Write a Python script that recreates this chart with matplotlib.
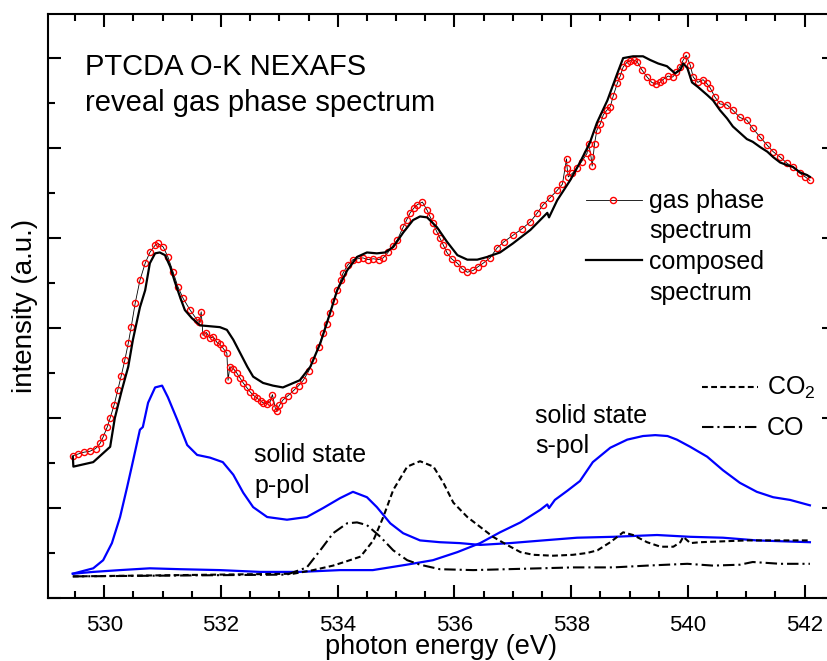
import numpy as np
import matplotlib
matplotlib.use("Agg")
import matplotlib.pyplot as plt
from matplotlib.ticker import MultipleLocator

plt.rcParams['font.family'] = ['Liberation Sans', 'DejaVu Sans']
plt.rcParams['mathtext.fontset'] = 'custom'
plt.rcParams['mathtext.rm'] = 'Liberation Sans'

# gas phase spectrum (red circles)
gas_e = [529.46, 529.55, 529.65, 529.75, 529.85, 529.93, 529.98, 530.05, 530.10, 530.17,
         530.23, 530.29, 530.35, 530.41, 530.46, 530.53, 530.61, 530.70, 530.78, 530.87,
         530.92, 531.01, 531.09, 531.18, 531.26, 531.35, 531.47, 531.59, 531.63, 531.66,
         531.69, 531.75, 531.81, 531.87, 531.93, 531.98, 532.03, 532.10, 532.12, 532.15,
         532.21, 532.27, 532.33, 532.38, 532.44, 532.50, 532.56, 532.62, 532.68, 532.72,
         532.78, 532.84, 532.88, 532.93, 532.96, 533.00, 533.06, 533.15, 533.25, 533.33,
         533.41, 533.50, 533.58, 533.67, 533.75, 533.81, 533.87, 533.93, 533.99, 534.05,
         534.09, 534.17, 534.26, 534.35, 534.43, 534.52, 534.61, 534.70, 534.78, 534.86,
         534.94, 535.02, 535.12, 535.18, 535.24, 535.30, 535.36, 535.45, 535.53, 535.58,
         535.63, 535.69, 535.75, 535.81, 535.87, 535.95, 536.05, 536.13, 536.22, 536.32,
         536.40, 536.49, 536.61, 536.73, 536.85, 537.00, 537.15, 537.30, 537.42, 537.52,
         537.64, 537.76, 537.85, 537.92, 537.93, 537.95, 538.02, 538.10, 538.18, 538.27,
         538.30, 538.34, 538.36, 538.40, 538.44, 538.50, 538.55, 538.61, 538.67, 538.72,
         538.79, 538.84, 538.89, 538.95, 539.01, 539.07, 539.13, 539.21, 539.30, 539.38,
         539.45, 539.52, 539.57, 539.66, 539.74, 539.80, 539.86, 539.92, 539.97, 540.04,
         540.09, 540.17, 540.26, 540.32, 540.38, 540.46, 540.55, 540.67, 540.77, 540.89,
         541.01, 541.11, 541.24, 541.36, 541.46, 541.58, 541.70, 541.80, 541.92, 542.01,
         542.09]
gas_i = [1.58, 1.60, 1.62, 1.63, 1.66, 1.72, 1.79, 1.90, 2.00, 2.15,
         2.31, 2.47, 2.64, 2.83, 3.01, 3.28, 3.53, 3.72, 3.84, 3.92,
         3.94, 3.90, 3.79, 3.62, 3.46, 3.33, 3.20, 3.09, 3.07, 3.18,
         2.92, 2.95, 2.89, 2.90, 2.84, 2.82, 2.78, 2.72, 2.42, 2.57,
         2.55, 2.50, 2.44, 2.39, 2.34, 2.29, 2.25, 2.22, 2.19, 2.17,
         2.16, 2.18, 2.26, 2.11, 2.08, 2.14, 2.20, 2.25, 2.31, 2.36,
         2.42, 2.52, 2.64, 2.79, 2.94, 3.05, 3.17, 3.30, 3.42, 3.53,
         3.61, 3.70, 3.76, 3.77, 3.78, 3.76, 3.77, 3.76, 3.78, 3.84,
         3.91, 3.98, 4.12, 4.20, 4.28, 4.33, 4.37, 4.40, 4.31, 4.24,
         4.17, 4.08, 4.00, 3.92, 3.84, 3.77, 3.72, 3.66, 3.62, 3.64,
         3.68, 3.72, 3.78, 3.89, 3.96, 4.03, 4.10, 4.18, 4.28, 4.37,
         4.45, 4.53, 4.60, 4.88, 4.78, 4.68, 4.72, 4.78, 4.85, 4.94,
         5.05, 4.90, 4.80, 5.05, 5.20, 5.27, 5.37, 5.42, 5.46, 5.58,
         5.72, 5.80, 5.90, 5.95, 5.97, 5.98, 5.96, 5.87, 5.79, 5.73,
         5.71, 5.73, 5.76, 5.80, 5.79, 5.84, 5.90, 5.98, 6.03, 5.92,
         5.79, 5.73, 5.76, 5.72, 5.67, 5.57, 5.49, 5.48, 5.42, 5.34,
         5.31, 5.22, 5.12, 5.03, 4.96, 4.90, 4.83, 4.79, 4.72, 4.68,
         4.64]

# composed spectrum (black line)
comp_e = [529.46, 529.47, 529.81, 530.10, 530.18, 530.30, 530.41, 530.49, 530.61, 530.70,
          530.78, 530.87, 530.95, 531.04, 531.13, 531.21, 531.30, 531.38, 531.50, 531.64,
          531.81, 531.98, 532.10, 532.21, 532.33, 532.45, 532.55, 532.72, 532.89, 533.06,
          533.35, 533.53, 533.70, 533.87, 533.99, 534.16, 534.33, 534.50, 534.67, 534.81,
          534.95, 535.12, 535.29, 535.41, 535.53, 535.70, 535.87, 536.05, 536.22, 536.39,
          536.56, 536.78, 537.00, 537.30, 537.59, 537.62, 537.76, 537.98, 538.15, 538.32,
          538.44, 538.62, 538.79, 538.89, 539.06, 539.23, 539.35, 539.49, 539.64, 539.78,
          539.87, 539.92, 539.99, 540.07, 540.17, 540.33, 540.43, 540.55, 540.67, 540.77,
          540.89, 541.01, 541.11, 541.24, 541.36, 541.46, 541.58, 541.70, 541.80, 541.92,
          542.04, 542.09]
comp_i = [1.57, 1.46, 1.51, 1.68, 2.00, 2.31, 2.57, 2.87, 3.23, 3.42,
          3.72, 3.83, 3.84, 3.81, 3.68, 3.51, 3.34, 3.20, 3.11, 3.03,
          3.02, 3.01, 2.98, 2.87, 2.72, 2.57, 2.46, 2.39, 2.36, 2.34,
          2.42, 2.57, 2.83, 3.17, 3.42, 3.64, 3.79, 3.84, 3.83, 3.84,
          3.90, 4.06, 4.20, 4.24, 4.23, 4.12, 3.96, 3.81, 3.76, 3.76,
          3.79, 3.84, 3.94, 4.09, 4.28, 4.23, 4.42, 4.64, 4.84, 5.06,
          5.28, 5.53, 5.83, 6.00, 6.02, 6.02, 5.98, 5.94, 5.91, 5.83,
          5.87, 5.94, 5.89, 5.73, 5.68, 5.59, 5.53, 5.42, 5.33, 5.24,
          5.17, 5.10, 5.07, 5.01, 4.96, 4.90, 4.84, 4.81, 4.79, 4.73,
          4.70, 4.68]

# solid state p-pol (blue)
ppol_e = [529.46, 529.81, 529.98, 530.13, 530.27, 530.39, 530.47, 530.61, 530.66, 530.75,
          530.87, 530.99, 531.09, 531.25, 531.42, 531.59, 531.81, 532.03, 532.21, 532.38,
          532.55, 532.79, 533.13, 533.47, 533.75, 534.04, 534.26, 534.50, 534.67, 534.90,
          535.12, 535.41, 535.75, 536.09, 536.44, 536.95, 537.52, 538.10, 538.72, 539.47,
          540.04, 540.60, 541.18, 542.09]
ppol_i = [0.27, 0.33, 0.42, 0.61, 0.90, 1.23, 1.46, 1.87, 1.90, 2.17,
          2.34, 2.36, 2.23, 1.98, 1.70, 1.59, 1.56, 1.51, 1.37, 1.17,
          1.01, 0.90, 0.87, 0.90, 1.00, 1.11, 1.18, 1.12, 1.01, 0.83,
          0.72, 0.64, 0.62, 0.61, 0.59, 0.61, 0.64, 0.67, 0.68, 0.70,
          0.68, 0.67, 0.64, 0.62]

# solid state s-pol (blue)
spol_e = [529.46, 529.81, 530.27, 530.78, 531.30, 531.98, 532.67, 533.35, 534.04, 534.60,
          535.18, 535.63, 536.05, 536.44, 536.78, 537.13, 537.47, 537.59, 537.62, 537.72,
          537.93, 538.15, 538.37, 538.67, 538.96, 539.23, 539.44, 539.65, 539.81, 540.04,
          540.33, 540.60, 540.89, 541.18, 541.46, 541.75, 542.09]
spol_i = [0.27, 0.29, 0.31, 0.33, 0.32, 0.31, 0.29, 0.29, 0.31, 0.31,
          0.37, 0.42, 0.51, 0.61, 0.73, 0.84, 0.98, 1.04, 1.00, 1.09,
          1.19, 1.30, 1.51, 1.67, 1.76, 1.80, 1.81, 1.80, 1.76, 1.68,
          1.57, 1.42, 1.28, 1.18, 1.12, 1.09, 1.03]

# CO2 (dashed)
co2_e = [529.46, 533.24, 533.58, 533.92, 534.16, 534.39, 534.61, 534.78, 534.95, 535.19,
         535.41, 535.64, 535.81, 535.98, 536.22, 536.44, 536.66, 536.90, 537.13, 537.35,
         537.69, 538.03, 538.27, 538.45, 538.67, 538.89, 539.06, 539.30, 539.53, 539.75,
         539.87, 539.92, 540.04, 540.21, 541.01, 542.09]
co2_i = [0.24, 0.27, 0.31, 0.36, 0.41, 0.46, 0.64, 0.90, 1.20, 1.46,
         1.52, 1.46, 1.28, 1.06, 0.90, 0.79, 0.68, 0.59, 0.51, 0.48,
         0.47, 0.48, 0.50, 0.53, 0.62, 0.73, 0.70, 0.62, 0.57, 0.57,
         0.62, 0.68, 0.61, 0.62, 0.64, 0.64]

# CO (dash-dot)
co_e = [529.46, 533.13, 533.47, 533.70, 533.92, 534.16, 534.33, 534.50, 534.73, 534.95,
        535.19, 535.41, 535.75, 536.32, 536.90, 537.47, 538.03, 538.72, 539.30, 539.99,
        540.43, 540.89, 541.11, 541.35, 541.58, 542.09]
co_i = [0.24, 0.26, 0.34, 0.53, 0.72, 0.83, 0.84, 0.81, 0.68, 0.53,
        0.42, 0.37, 0.32, 0.31, 0.32, 0.33, 0.34, 0.34, 0.36, 0.38,
        0.36, 0.37, 0.40, 0.39, 0.38, 0.38]

fig = plt.figure(figsize=(8.28, 6.61), dpi=100)
ax = fig.add_axes([48/828, 63/661, 787/828, 584/661])

ax.plot(ppol_e, ppol_i, color='#0000ff', lw=1.6)
ax.plot(spol_e, spol_i, color='#0000ff', lw=1.6)
ax.plot(co2_e, co2_i, color='k', lw=1.5, dashes=(2.8, 1.6))
ax.plot(co_e, co_i, color='k', lw=1.5, dashes=(5.5, 1.9, 1.0, 1.9))
ax.plot(gas_e, gas_i, '-', color='k', lw=0.6, marker='o', ms=4.4,
        mfc='none', mec='#ff0000', mew=1.0)
ax.plot(comp_e, comp_i, color='k', lw=1.6)

ax.set_xlim(529.035, 542.52)
ax.set_ylim(0, 6.49)
ax.xaxis.set_major_locator(MultipleLocator(2))
ax.xaxis.set_minor_locator(MultipleLocator(0.5))
ax.yaxis.set_major_locator(MultipleLocator(1))
ax.yaxis.set_minor_locator(MultipleLocator(0.5))
ax.tick_params(which='both', direction='in', top=True, right=True, width=1.5)
ax.tick_params(which='major', length=9.4)
ax.tick_params(which='minor', length=4.7)
ax.tick_params(axis='x', labelsize=16, pad=12)
ax.tick_params(axis='y', labelleft=False)
for s in ax.spines.values():
    s.set_linewidth(1.5)

ax.set_xlabel('photon energy (eV)', fontsize=19.5, labelpad=-1.5)
ax.set_ylabel('intensity (a.u.)', fontsize=20, labelpad=4)

tr = ax.transAxes
ax.text(0.047, 0.8955, 'PTCDA O-K NEXAFS', fontsize=21, transform=tr, va='baseline')
ax.text(0.047, 0.834, 'reveal gas phase spectrum', fontsize=21, transform=tr, va='baseline')
ax.text(0.2618, 0.2329, 'solid state', fontsize=18, transform=tr, va='baseline')
ax.text(0.2618, 0.1798, 'p-pol', fontsize=18, transform=tr, va='baseline')
ax.text(0.6188, 0.2997, 'solid state', fontsize=18, transform=tr, va='baseline')
ax.text(0.6188, 0.2483, 's-pol', fontsize=18, transform=tr, va='baseline')

# legend samples
ax.plot([0.6836, 0.7548], [0.6815, 0.6815], color='k', lw=0.6, transform=tr)
ax.plot([0.718], [0.6815], marker='o', ms=4.4, mfc='none', mec='#ff0000', mew=1.0,
        transform=tr)
ax.text(0.7637, 0.6678, 'gas phase', fontsize=18, transform=tr, va='baseline')
ax.text(0.7637, 0.6164, 'spectrum', fontsize=18, transform=tr, va='baseline')
ax.plot([0.6836, 0.7548], [0.5788, 0.5788], color='k', lw=1.6, transform=tr)
ax.text(0.7637, 0.5634, 'composed', fontsize=18, transform=tr, va='baseline')
ax.text(0.7637, 0.5103, 'spectrum', fontsize=18, transform=tr, va='baseline')

ax.plot([0.831, 0.902], [0.3613, 0.3613], color='k', lw=1.5, dashes=(2.8, 1.6),
        transform=tr)
ax.text(0.9136, 0.3476, r'CO$_\mathregular{2}$', fontsize=18, transform=tr, va='baseline')
ax.plot([0.831, 0.902], [0.2928, 0.2928], color='k', lw=1.5,
        dashes=(5.5, 1.9, 1.0, 1.9), transform=tr)
ax.text(0.9136, 0.2791, 'CO', fontsize=18, transform=tr, va='baseline')

fig.savefig('out.png', dpi=100)
